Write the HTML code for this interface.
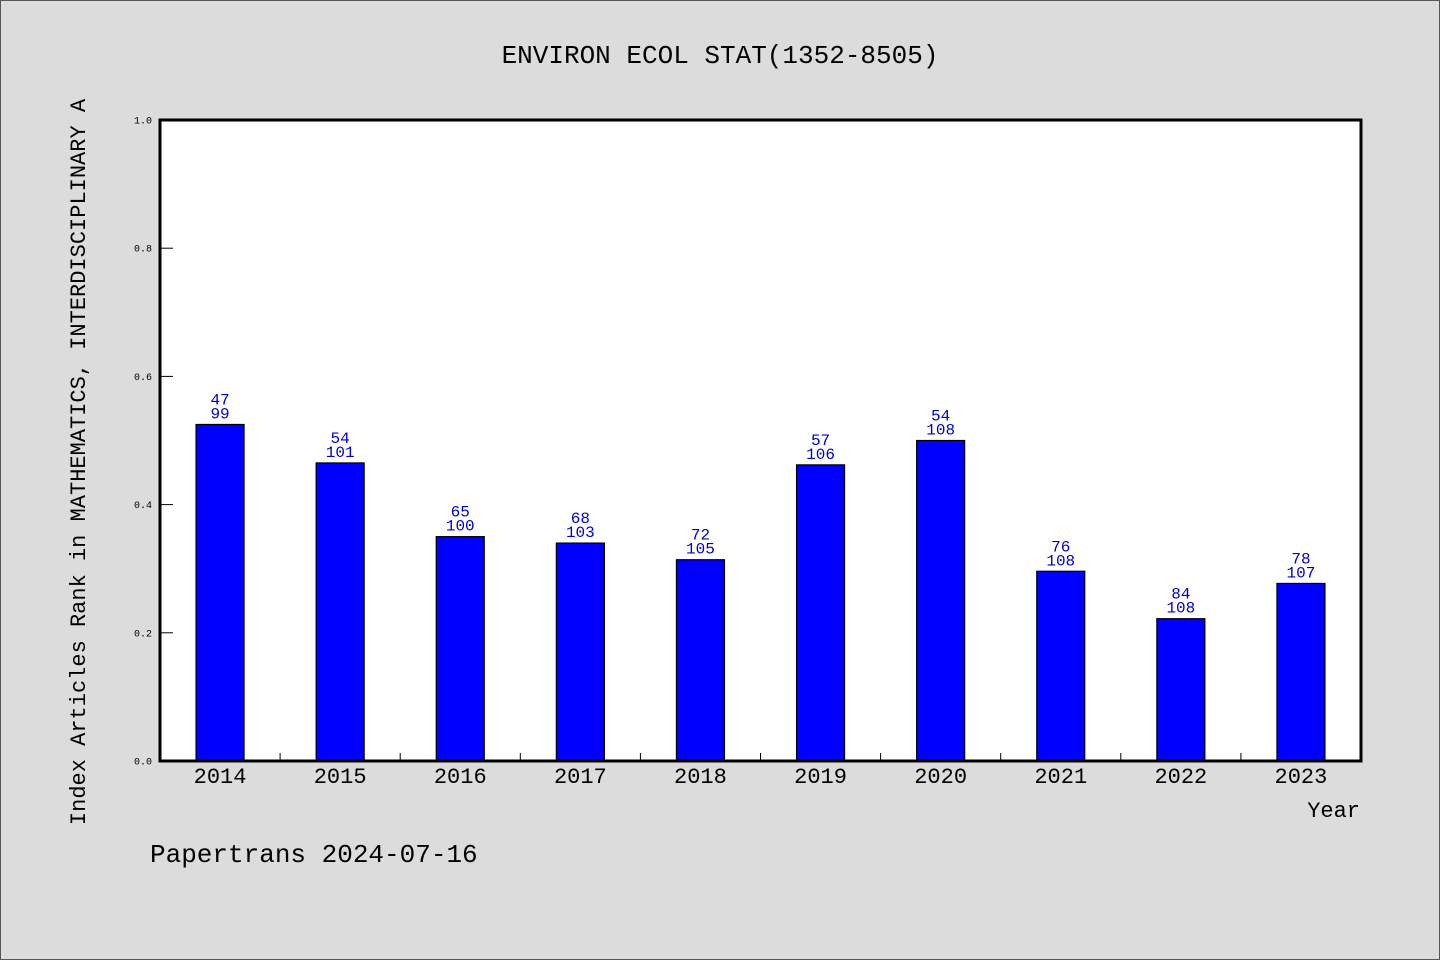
<!DOCTYPE html>
<html><head><meta charset="utf-8"><style>
html,body{margin:0;padding:0;background:#dcdcdc;}
svg{display:block;font-family:"Liberation Mono","WenQuanYi Zen Hei",monospace;}
</style></head><body>
<svg id="chart" width="1440" height="960" viewBox="0 0 1440 960">
<rect x="0.5" y="0.5" width="1439" height="959" fill="#dcdcdc" stroke="#555"/>
<text x="720" y="63" text-anchor="middle" font-size="26">ENVIRON ECOL STAT(1352-8505)</text>
<rect x="160" y="120" width="1201" height="641" fill="#fff"/>
<g id="bars"></g>
<g id="axes"></g>
<rect x="160" y="120" width="1201" height="641" fill="none" stroke="#000" stroke-width="3"/>
<text x="1360" y="817" text-anchor="end" font-size="22">Year</text>
<text transform="translate(85,462) rotate(-90)" text-anchor="middle" font-size="22">Index Articles Rank in MATHEMATICS, INTERDISCIPLINARY A</text>
<text x="150" y="862" font-size="26">Papertrans 2024-07-16</text>
</svg>
<script>
const categories=["2014","2015","2016","2017","2018","2019","2020","2021","2022","2023"];
const ranks=[47,54,65,68,72,57,54,76,84,78];
const totals=[99,101,100,103,105,106,108,108,108,107];
const values=[0.525,0.465,0.35,0.34,0.314,0.462,0.5,0.296,0.222,0.277];
const yTicks=["0.0","0.2","0.4","0.6","0.8","1.0"];
const NS="http://www.w3.org/2000/svg";
const L=160,R=1361,T=120,B=761;
const step=(R-L)/categories.length;
const xs=i=>L+step*(i+0.5);
const ys=v=>B-(B-T)*v;
function mk(tag,attrs,parent,text){const e=document.createElementNS(NS,tag);for(const k in attrs)e.setAttribute(k,attrs[k]);if(text!==undefined)e.textContent=text;parent.appendChild(e);return e;}
const gb=document.getElementById('bars'),ga=document.getElementById('axes');
categories.forEach((c,i)=>{
  const x=xs(i),y=ys(values[i]);
  const r=mk('rect',{x:x-24,y:y,width:48,height:B-y,fill:'#0000ff',stroke:'#000','stroke-width':1.2},gb);
  
  
  const t1=mk('text',{x:x,y:y-20,'text-anchor':'middle','font-size':16,fill:'#0000cc'},gb,String(ranks[i]));
  
  
  const t2=mk('text',{x:x,y:y-6,'text-anchor':'middle','font-size':16,fill:'#0000cc'},gb,String(totals[i]));
  
  
  const xl=mk('text',{x:x,y:783,'text-anchor':'middle','font-size':22},ga,c);
  
  
  if(i>0){const tk=mk('line',{x1:L+step*i,x2:L+step*i,y1:B,y2:B-8,stroke:'#000','stroke-width':1},ga);
  
  }
});
yTicks.forEach(t=>{
  const y=ys(parseFloat(t));
  const ln=mk('line',{x1:L,x2:L+13,y1:y,y2:y,stroke:'#000','stroke-width':1},ga);
  
  
  const tx=mk('text',{x:152,y:y+3.5,'text-anchor':'end','font-size':10},ga,t);
  
  
});
</script>
</body></html>
